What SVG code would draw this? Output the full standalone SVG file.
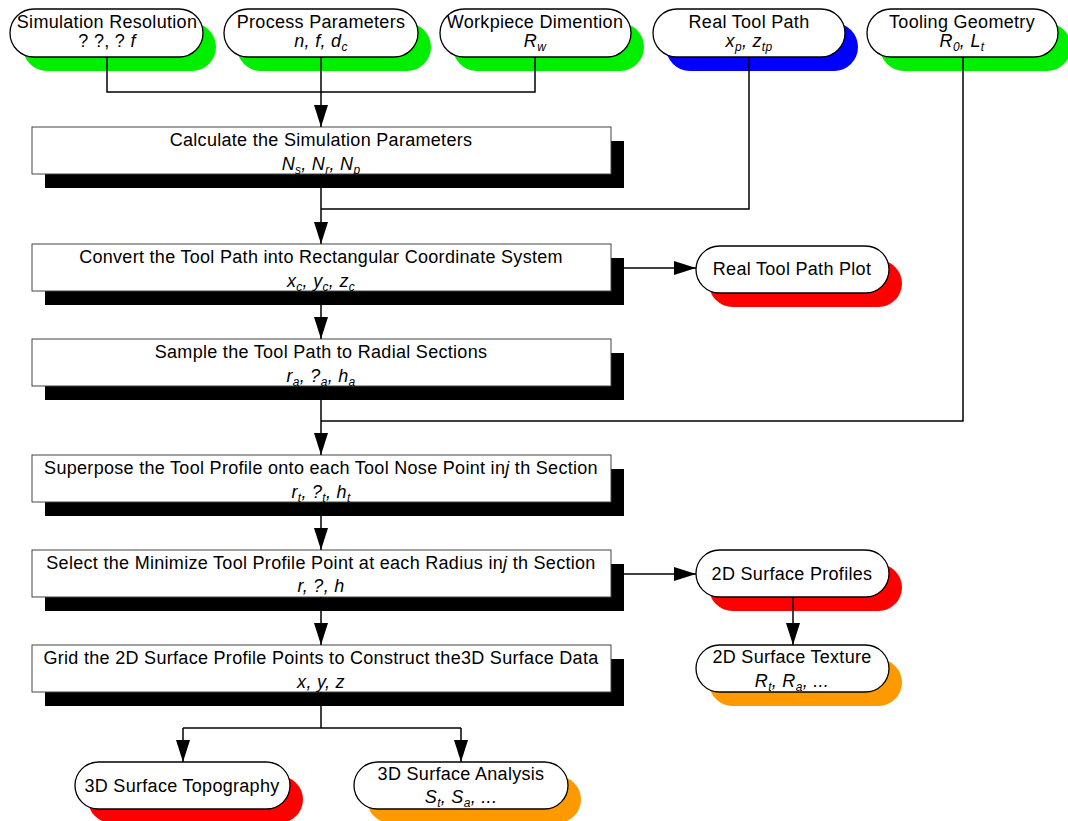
<svg xmlns="http://www.w3.org/2000/svg" width="1068" height="821" viewBox="0 0 1068 821">
<style>
text{font-family:"Liberation Sans",Arial,sans-serif;font-size:18px;fill:#000;text-anchor:middle;letter-spacing:0.3px}
.it{font-style:italic}
.sub{font-size:12px}
.pill{fill:#fff;stroke:#000;stroke-width:1.3}
.box{fill:#fff;stroke:#444;stroke-width:1}
.bsh{fill:#000}
.g{fill:#00ee00}.b{fill:#0000ff}.r{fill:#ff0000}.o{fill:#ff9900}
.con{fill:none;stroke:#000;stroke-width:1.5}
</style>
<defs>
<marker id="arr" markerWidth="22" markerHeight="14" refX="22" refY="7" orient="auto" markerUnits="userSpaceOnUse"><path d="M0,0 L22,7 L0,14 z" fill="#000"/></marker>
</defs>

<!-- top pills -->
<g id="sim-res">
<rect class="g" x="23" y="23" width="193" height="48" rx="24"/>
<rect class="pill" x="10" y="9" width="193" height="48" rx="24"/>
<text x="107" y="28">Simulation Resolution</text>
<text x="107" y="47">? ?, ? <tspan class="it">f</tspan></text>
</g>
<g id="proc-param">
<rect class="g" x="237" y="23" width="194" height="48" rx="24"/>
<rect class="pill" x="224" y="9" width="194" height="48" rx="24"/>
<text x="321" y="28">Process Parameters</text>
<text x="321" y="47" class="it">n, f, d<tspan class="sub" dy="4">c</tspan></text>
</g>
<g id="workpiece">
<rect class="g" x="453" y="23" width="191" height="48" rx="24"/>
<rect class="pill" x="440" y="9" width="191" height="48" rx="24"/>
<text x="535" y="28">Workpiece Dimention</text>
<text x="535" y="47" class="it">R<tspan class="sub" dy="4">w</tspan></text>
</g>
<g id="real-tool-path">
<rect class="b" x="666" y="23" width="192" height="48" rx="24"/>
<rect class="pill" x="653" y="9" width="192" height="48" rx="24"/>
<text x="749" y="28">Real Tool Path</text>
<text x="749" y="47" class="it">x<tspan class="sub" dy="4">p</tspan><tspan dy="-4">, z</tspan><tspan class="sub" dy="4">tp</tspan></text>
</g>
<g id="tooling">
<rect class="g" x="880" y="23" width="191" height="48" rx="24"/>
<rect class="pill" x="867" y="9" width="191" height="48" rx="24"/>
<text x="962" y="28">Tooling Geometry</text>
<text x="962" y="47" class="it">R<tspan class="sub" dy="4">0</tspan><tspan dy="-4">, L</tspan><tspan class="sub" dy="4">t</tspan></text>
</g>

<!-- main boxes -->
<g id="calc">
<rect class="bsh" x="45" y="141" width="579" height="47"/>
<rect class="box" x="32" y="127" width="579" height="47"/>
<text x="321" y="146">Calculate the Simulation Parameters</text>
<text x="321" y="170" class="it">N<tspan class="sub" dy="4">s</tspan><tspan dy="-4">, N</tspan><tspan class="sub" dy="4">r</tspan><tspan dy="-4">, N</tspan><tspan class="sub" dy="4">p</tspan></text>
</g>
<g id="convert">
<rect class="bsh" x="45" y="258" width="579" height="47"/>
<rect class="box" x="32" y="244" width="579" height="47"/>
<text x="321" y="263">Convert the Tool Path into Rectangular Coordinate System</text>
<text x="321" y="287" class="it">x<tspan class="sub" dy="4">c</tspan><tspan dy="-4">, y</tspan><tspan class="sub" dy="4">c</tspan><tspan dy="-4">, z</tspan><tspan class="sub" dy="4">c</tspan></text>
</g>
<g id="sample">
<rect class="bsh" x="45" y="353" width="579" height="47"/>
<rect class="box" x="32" y="339" width="579" height="47"/>
<text x="321" y="358">Sample the Tool Path to Radial Sections</text>
<text x="321" y="382" class="it">r<tspan class="sub" dy="4">a</tspan><tspan dy="-4">, ?</tspan><tspan class="sub" dy="4">a</tspan><tspan dy="-4">, h</tspan><tspan class="sub" dy="4">a</tspan></text>
</g>
<g id="superpose">
<rect class="bsh" x="45" y="469" width="579" height="47"/>
<rect class="box" x="32" y="455" width="579" height="47"/>
<text x="321" y="474">Superpose the Tool Profile onto each Tool Nose Point in<tspan class="it">j</tspan> th Section</text>
<text x="321" y="498" class="it">r<tspan class="sub" dy="4">t</tspan><tspan dy="-4">, ?</tspan><tspan class="sub" dy="4">t</tspan><tspan dy="-4">, h</tspan><tspan class="sub" dy="4">t</tspan></text>
</g>
<g id="select">
<rect class="bsh" x="45" y="564" width="579" height="47"/>
<rect class="box" x="32" y="550" width="579" height="47"/>
<text x="321" y="569">Select the Minimize Tool Profile Point at each Radius in<tspan class="it">j</tspan> th Section</text>
<text x="321" y="592" class="it">r, ?, h</text>
</g>
<g id="grid">
<rect class="bsh" x="45" y="659" width="579" height="47"/>
<rect class="box" x="32" y="645" width="579" height="47"/>
<text x="321" y="664">Grid the 2D Surface Profile Points to Construct the3D Surface Data</text>
<text x="321" y="688" class="it">x, y, z</text>
</g>

<!-- right pills -->
<g id="plot">
<rect class="r" x="709" y="260" width="193" height="47" rx="23.5"/>
<rect class="pill" x="696" y="246" width="193" height="47" rx="23.5"/>
<text x="792" y="275">Real Tool Path Plot</text>
</g>
<g id="profiles">
<rect class="r" x="709" y="564" width="193" height="47" rx="23.5"/>
<rect class="pill" x="696" y="550" width="193" height="47" rx="23.5"/>
<text x="792" y="580">2D Surface Profiles</text>
</g>
<g id="texture">
<rect class="o" x="709" y="659" width="193" height="47" rx="23.5"/>
<rect class="pill" x="696" y="645" width="193" height="47" rx="23.5"/>
<text x="792" y="663">2D Surface Texture</text>
<text x="792" y="687" class="it">R<tspan class="sub" dy="4">t</tspan><tspan dy="-4">, R</tspan><tspan class="sub" dy="4">a</tspan><tspan dy="-4">, ...</tspan></text>
</g>
<g id="topo">
<rect class="r" x="88" y="776" width="215" height="47" rx="23.5"/>
<rect class="pill" x="75" y="762" width="215" height="47" rx="23.5"/>
<text x="182" y="792">3D Surface Topography</text>
</g>
<g id="analysis">
<rect class="o" x="367" y="776" width="214" height="47" rx="23.5"/>
<rect class="pill" x="354" y="762" width="214" height="47" rx="23.5"/>
<text x="461" y="780">3D Surface Analysis</text>
<text x="461" y="803" class="it">S<tspan class="sub" dy="4">t</tspan><tspan dy="-4">, S</tspan><tspan class="sub" dy="4">a</tspan><tspan dy="-4">, ...</tspan></text>
</g>

<!-- connectors -->
<g id="connectors">
<path class="con" d="M107,57 V92 H535 V57"/>
<path class="con" d="M321,57 V127" marker-end="url(#arr)"/>
<path class="con" d="M749,57 V209 H321"/>
<path class="con" d="M321,174 V244" marker-end="url(#arr)"/>
<path class="con" d="M624,268 H696" marker-end="url(#arr)"/>
<path class="con" d="M321,291 V339" marker-end="url(#arr)"/>
<path class="con" d="M963,57 V421 H321"/>
<path class="con" d="M321,386 V455" marker-end="url(#arr)"/>
<path class="con" d="M321,502 V550" marker-end="url(#arr)"/>
<path class="con" d="M624,574 H696" marker-end="url(#arr)"/>
<path class="con" d="M321,597 V645" marker-end="url(#arr)"/>
<path class="con" d="M793,597 V645" marker-end="url(#arr)"/>
<path class="con" d="M321,692 V728"/>
<path class="con" d="M183,728 H461"/>
<path class="con" d="M183,728 V762" marker-end="url(#arr)"/>
<path class="con" d="M461,728 V762" marker-end="url(#arr)"/>
</g>
</svg>
